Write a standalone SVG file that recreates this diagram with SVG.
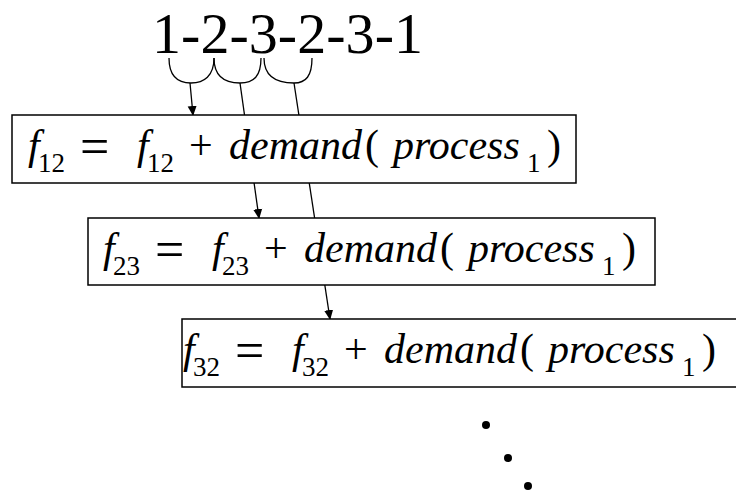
<svg xmlns="http://www.w3.org/2000/svg" width="736" height="490" viewBox="0 0 736 490">
<defs>
<marker id="ah" markerWidth="10" markerHeight="10" refX="9" refY="5" orient="auto" markerUnits="userSpaceOnUse">
<path d="M0,0.5 L10,5 L0,9.5 Z" fill="#000"/>
</marker>
<g id="eqrow">
<rect x="0" y="0" width="1" height="1" fill="none"/>
</g>
</defs>
<rect width="736" height="490" fill="#fff"/>
<g id="sequence">
<text x="152" y="53" font-size="58" font-family="Liberation Serif" style="font-family:'Liberation Serif'" textLength="271" lengthAdjust="spacing">1-2-3-2-3-1</text>
</g>
<g id="braces" fill="none" stroke="#000" stroke-width="1.3">
<path d="M169,58 C169,76 178,83 191,83 C204,83 214,76 214,58"/>
<path d="M214,58 C214,76 224,83 240,83 C254,83 261,76 261,58"/>
<path d="M264,58 C264,76 276,83 294,83 C306,83 312,76 312,58"/>
</g>
<g id="connectors" fill="none" stroke="#000" stroke-width="1.3">
<line x1="190" y1="83" x2="193" y2="115" marker-end="url(#ah)"/>
<line x1="240" y1="83" x2="259" y2="218" marker-end="url(#ah)"/>
<line x1="294" y1="83" x2="330" y2="319" marker-end="url(#ah)"/>
</g>
<g id="box1">
<rect x="12" y="115" width="564" height="68" fill="#fff" stroke="#000" stroke-width="1.5"/>
<text x="28" y="159" font-size="42" font-style="italic" font-family="Liberation Serif" style="font-family:'Liberation Serif'">f</text>
<text x="38" y="172" font-size="27" font-family="Liberation Serif" style="font-family:'Liberation Serif'">12</text>
<text x="80" y="164" font-size="52" font-family="Liberation Serif" style="font-family:'Liberation Serif'">=</text>
<text x="137" y="159" font-size="42" font-style="italic" font-family="Liberation Serif" style="font-family:'Liberation Serif'">f</text>
<text x="147" y="172" font-size="27" font-family="Liberation Serif" style="font-family:'Liberation Serif'">12</text>
<text x="189" y="159" font-size="42" font-family="Liberation Serif" style="font-family:'Liberation Serif'">+</text>
<text x="229" y="159" font-size="42" font-style="italic" font-family="Liberation Serif" style="font-family:'Liberation Serif'">demand</text>
<text x="365" y="159" font-size="42" font-family="Liberation Serif" style="font-family:'Liberation Serif'">(</text>
<text x="393" y="159" font-size="42" font-style="italic" font-family="Liberation Serif" style="font-family:'Liberation Serif'">process</text>
<text x="527" y="172" font-size="27" font-family="Liberation Serif" style="font-family:'Liberation Serif'">1</text>
<text x="547" y="159" font-size="42" font-family="Liberation Serif" style="font-family:'Liberation Serif'">)</text>
</g>
<g id="box2">
<rect x="88" y="218" width="567" height="67" fill="#fff" stroke="#000" stroke-width="1.5"/>
<g transform="translate(75,103)">
<text x="28" y="159" font-size="42" font-style="italic" font-family="Liberation Serif" style="font-family:'Liberation Serif'">f</text>
<text x="38" y="172" font-size="27" font-family="Liberation Serif" style="font-family:'Liberation Serif'">23</text>
<text x="80" y="164" font-size="52" font-family="Liberation Serif" style="font-family:'Liberation Serif'">=</text>
<text x="137" y="159" font-size="42" font-style="italic" font-family="Liberation Serif" style="font-family:'Liberation Serif'">f</text>
<text x="147" y="172" font-size="27" font-family="Liberation Serif" style="font-family:'Liberation Serif'">23</text>
<text x="189" y="159" font-size="42" font-family="Liberation Serif" style="font-family:'Liberation Serif'">+</text>
<text x="229" y="159" font-size="42" font-style="italic" font-family="Liberation Serif" style="font-family:'Liberation Serif'">demand</text>
<text x="365" y="159" font-size="42" font-family="Liberation Serif" style="font-family:'Liberation Serif'">(</text>
<text x="393" y="159" font-size="42" font-style="italic" font-family="Liberation Serif" style="font-family:'Liberation Serif'">process</text>
<text x="527" y="172" font-size="27" font-family="Liberation Serif" style="font-family:'Liberation Serif'">1</text>
<text x="547" y="159" font-size="42" font-family="Liberation Serif" style="font-family:'Liberation Serif'">)</text>
</g>
</g>
<g id="box3">
<rect x="182" y="319" width="570" height="68" fill="#fff" stroke="#000" stroke-width="1.5"/>
<g transform="translate(155,204)">
<text x="28" y="159" font-size="42" font-style="italic" font-family="Liberation Serif" style="font-family:'Liberation Serif'">f</text>
<text x="38" y="172" font-size="27" font-family="Liberation Serif" style="font-family:'Liberation Serif'">32</text>
<text x="80" y="164" font-size="52" font-family="Liberation Serif" style="font-family:'Liberation Serif'">=</text>
<text x="137" y="159" font-size="42" font-style="italic" font-family="Liberation Serif" style="font-family:'Liberation Serif'">f</text>
<text x="147" y="172" font-size="27" font-family="Liberation Serif" style="font-family:'Liberation Serif'">32</text>
<text x="189" y="159" font-size="42" font-family="Liberation Serif" style="font-family:'Liberation Serif'">+</text>
<text x="229" y="159" font-size="42" font-style="italic" font-family="Liberation Serif" style="font-family:'Liberation Serif'">demand</text>
<text x="365" y="159" font-size="42" font-family="Liberation Serif" style="font-family:'Liberation Serif'">(</text>
<text x="393" y="159" font-size="42" font-style="italic" font-family="Liberation Serif" style="font-family:'Liberation Serif'">process</text>
<text x="527" y="172" font-size="27" font-family="Liberation Serif" style="font-family:'Liberation Serif'">1</text>
<text x="547" y="159" font-size="42" font-family="Liberation Serif" style="font-family:'Liberation Serif'">)</text>
</g>
</g>
<g id="dots" fill="#000">
<circle cx="486" cy="425" r="4"/>
<circle cx="508" cy="458" r="4"/>
<circle cx="528" cy="486" r="4"/>
</g>
</svg>
